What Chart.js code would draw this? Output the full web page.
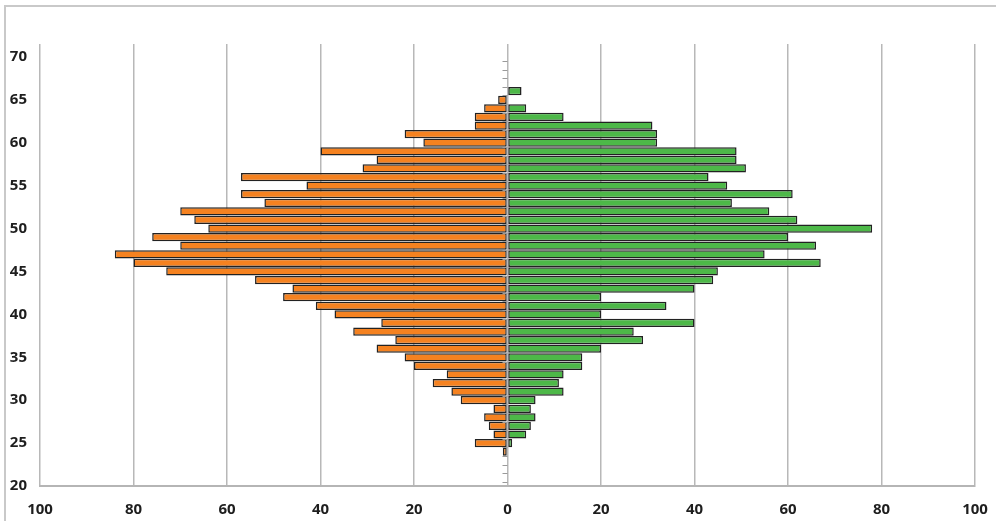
<!DOCTYPE html>
<html>
<head>
<meta charset="utf-8">
<script src="https://cdn.jsdelivr.net/npm/chart.js@4/dist/chart.umd.min.js"></script>
<style>
  html, body { margin: 0; padding: 0; background: #fff; }
  #wrap { position: relative; width: 996px; height: 521px; overflow: hidden; }
  #frame {
    position: absolute; left: 4px; top: 5px; width: 1100px; height: 600px;
    border-top: 2px solid #c9c9c9; border-left: 2px solid #c9c9c9;
    pointer-events: none;
  }
  canvas { position: absolute; left: 0; top: 0; }
</style>
</head>
<body>
<div id="wrap">
  <div id="frame"></div>
  <canvas id="myChart" width="996" height="521"></canvas>
</div>
<script>
// ages on the vertical axis, one bar per year
const ages = [24, 25, 26, 27, 28, 29, 30, 31, 32, 33, 34, 35, 36, 37, 38, 39, 40, 41, 42, 43, 44,
  45, 46, 47, 48, 49, 50, 51, 52, 53, 54, 55, 56, 57, 58, 59, 60, 61, 62, 63, 64, 65, 66];

// orange bars, drawn to the left
const leftValues = [1, 7, 3, 4, 5, 3, 10, 12, 16, 13, 20, 22, 28, 24, 33, 27, 37, 41, 48, 46, 54,
  73, 80, 84, 70, 76, 64, 67, 70, 52, 57, 43, 57, 31, 28, 40, 18, 22, 7, 7, 5, 2, 0];

// green bars, drawn to the right
const rightValues = [0, 1, 4, 5, 6, 5, 6, 12, 11, 12, 16, 16, 20, 29, 27, 40, 20, 34, 20, 40, 44,
  45, 67, 55, 66, 60, 78, 62, 56, 48, 61, 47, 43, 51, 49, 49, 32, 32, 31, 12, 4, 0, 3];

const xTicks = [-100, -80, -60, -40, -20, 0, 20, 40, 60, 80, 100];
const yTicks = [20, 25, 30, 35, 40, 45, 50, 55, 60, 65, 70];

const tickFont = { family: "'Open Sans', 'Liberation Sans', sans-serif", size: 15, weight: "bold" };

// small year marks on the centre axis
const centreTicks = {
  id: "centreTicks",
  afterDatasetsDraw(chart) {
    const { ctx, scales } = chart;
    const x0 = scales.x.getPixelForValue(0);
    ctx.save();
    ctx.strokeStyle = "#9a9a9a";
    ctx.lineWidth = 1;
    for (let a = 20.5; a < 70; a++) {
      const y = Math.round(scales.y.getPixelForValue(a)) + 0.5;
      ctx.beginPath();
      ctx.moveTo(x0 - 5, y);
      ctx.lineTo(x0, y);
      ctx.stroke();
    }
    ctx.restore();
  },
};

const ctx = document.getElementById("myChart");

new Chart(ctx, {
  type: "bar",
  data: {
    datasets: [
      {
        label: "left",
        data: ages.map((a, i) => ({ x: -leftValues[i], y: a })),
        backgroundColor: "#f58220",
        borderColor: "#222",
        borderWidth: 1.5,
        borderSkipped: false,
        barPercentage: 0.96,
        categoryPercentage: 1,
      },
      {
        label: "right",
        data: ages.map((a, i) => ({ x: rightValues[i], y: a })),
        backgroundColor: "#4db848",
        borderColor: "#222",
        borderWidth: 1.5,
        borderSkipped: false,
        barPercentage: 0.96,
        categoryPercentage: 1,
      },
    ],
  },
  options: {
    indexAxis: "y",
    responsive: false,
    animation: false,
    layout: { padding: { top: 44, right: 21, left: 0, bottom: 0 } },
    plugins: { legend: { display: false }, tooltip: { enabled: false } },
    scales: {
      x: {
        type: "linear",
        stacked: true,
        min: -100,
        max: 100,
        afterBuildTicks: (s) => { s.ticks = xTicks.map((v) => ({ value: v })); },
        afterFit: (s) => {
          s.height = 35;
          s.paddingLeft = 0;
          s.paddingRight = 0;
        },
        ticks: {
          padding: 15,
          color: "#1e1e1e",
          font: tickFont,
          callback: (v) => Math.abs(v),
        },
        grid: { color: "#b8b8b8", lineWidth: 1.5, drawTicks: false },
        border: { display: true, color: "#b5b5b5", width: 2 },
      },
      y: {
        type: "linear",
        stacked: true,
        offset: false,
        min: 20,
        max: 71.5,
        afterBuildTicks: (s) => { s.ticks = yTicks.map((v) => ({ value: v })); },
        afterFit: (s) => { s.width = 40; },
        ticks: { padding: 13, color: "#1e1e1e", font: tickFont },
        grid: { display: false, drawTicks: false },
        border: { display: false },
      },
    },
  },
  plugins: [centreTicks],
});
</script>
</body>
</html>
